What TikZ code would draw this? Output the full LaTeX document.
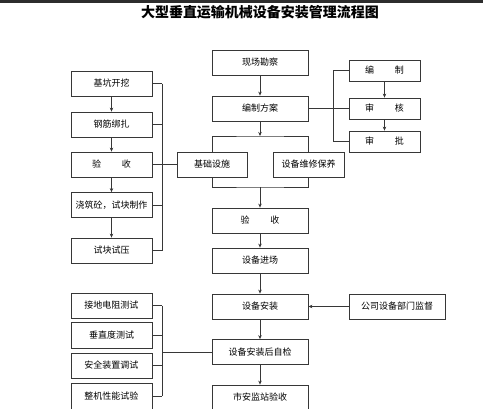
\documentclass[tikz,border=0pt]{standalone}
\usepackage{fontspec}
\setmainfont{Noto Sans CJK SC}
\usepackage{tikz}
\usetikzlibrary{arrows.meta, positioning, calc}
\definecolor{linegray}{RGB}{55,55,55}
\definecolor{titlebar}{RGB}{45,45,45}

\begin{document}
\begin{tikzpicture}[x=1pt, y=-1pt,
  box/.style={draw=linegray, line width=0.8pt, minimum height=25pt, inner sep=0pt, font=\fontsize{9}{10}\selectfont},
  cbox/.style={box, minimum width=96pt},
  lbox/.style={box, minimum width=81pt},
  rbox/.style={box, minimum width=71pt, minimum height=21pt},
  arr/.style={-{Stealth[length=4pt, width=3.5pt]}, draw=linegray, line width=0.7pt},
  conn/.style={draw=linegray, line width=0.7pt}]
  \useasboundingbox (0,0) rectangle (483,408);
  \clip (0,0) rectangle (483,408);
  \fill[titlebar] (0,0) rectangle (483,2.5);
  \node[font=\bfseries\fontsize{14}{16}\selectfont] (title) at (260,12) {大型垂直运输机械设备安装管理流程图};

  % main column
  \node[cbox] (kancha) at (260,62.5) {现场勘察};
  \node[cbox] (fangan) at (260,108.5) {编制方案};
  \node[box, minimum width=70pt] (jichu) at (212,164.5) {基础设施};
  \node[box, minimum width=71pt] (weixiu) at (308.5,164.5) {设备维修保养};
  \node[cbox] (yanshouC) at (260,220.5) {验\hspace{2.3em}收};
  \node[cbox] (jinchang) at (260,260.5) {设备进场};
  \node[cbox] (anzhuang) at (260,306.5) {设备安装};
  \node[cbox] (zijian) at (260,352) {设备安装后自检};
  \node[cbox] (anjian) at (260,397.5) {市安监站验收};
  \node[box, minimum width=96pt] (jiandu) at (397,306.5) {公司设备部门监督};

  % approval column
  \node[rbox] (bianzhi) at (384.5,70.5) {编\hspace{2.3em}制};
  \node[rbox] (shenhe) at (384.5,108.5) {审\hspace{2.3em}核};
  \node[rbox] (shenpi) at (384.5,141.5) {审\hspace{2.3em}批};

  % foundation column
  \node[lbox] (jikeng) at (111.5,83.5) {基坑开挖};
  \node[lbox] (gangjin) at (111.5,124.5) {钢筋绑扎};
  \node[lbox] (yanshouL) at (111.5,164.5) {验\hspace{2.3em}收};
  \node[lbox] (jiaozhu) at (111.5,205) {浇筑砼，试块制作};
  \node[lbox] (shiya) at (111.5,250.5) {试块试压};

  % test column
  \node[lbox] (jiedi) at (111.5,305.5) {接地电阻测试};
  \node[lbox, minimum height=26pt] (chuizhi) at (111.5,335) {垂直度测试};
  \node[lbox] (anquan) at (111.5,365.5) {安全装置调试};
  \node[lbox, minimum height=26pt] (zhengji) at (111.5,396) {整机性能试验};

  \coordinate (fork) at (260,136);
  \coordinate (join) at (260,187);
  \coordinate (lbus) at (162,0);

  \draw[arr] (kancha) -- (fangan);
  \draw[arr] (fangan) -- (fork);
  \draw[conn] (jichu.north) |- (fork) -| (weixiu.north);
  \draw[conn] (jichu.south) |- (join) -| (weixiu.south);
  \draw[arr] (join) -- (yanshouC);
  \foreach \a/\b in {yanshouC/jinchang, jinchang/anzhuang, anzhuang/zijian, zijian/anjian,
                     bianzhi/shenhe, shenhe/shenpi,
                     jikeng/gangjin, gangjin/yanshouL, yanshouL/jiaozhu, jiaozhu/shiya}
    \draw[arr] (\a) -- (\b);
  \draw[arr] (jiandu) -- (anzhuang);

  % brackets
  \draw[conn] (fangan.east) -- (shenhe.west);
  \draw[conn] (bianzhi.west) -- ++(-15,0) |- (shenpi.west);
  \foreach \n in {jikeng, gangjin, yanshouL, jiaozhu, shiya, jiedi, chuizhi, anquan, zhengji}
    \draw[conn] (\n.east) -- (\n.east -| lbus);
  \draw[conn] (jikeng.east -| lbus) -- (shiya.east -| lbus);
  \draw[conn] (yanshouL.east) -- (jichu.west);
  \draw[conn] (jiedi.east -| lbus) -- (zhengji.east -| lbus);
  \draw[conn] (zijian.west -| lbus) -- (zijian.west);
\end{tikzpicture}
\end{document}
